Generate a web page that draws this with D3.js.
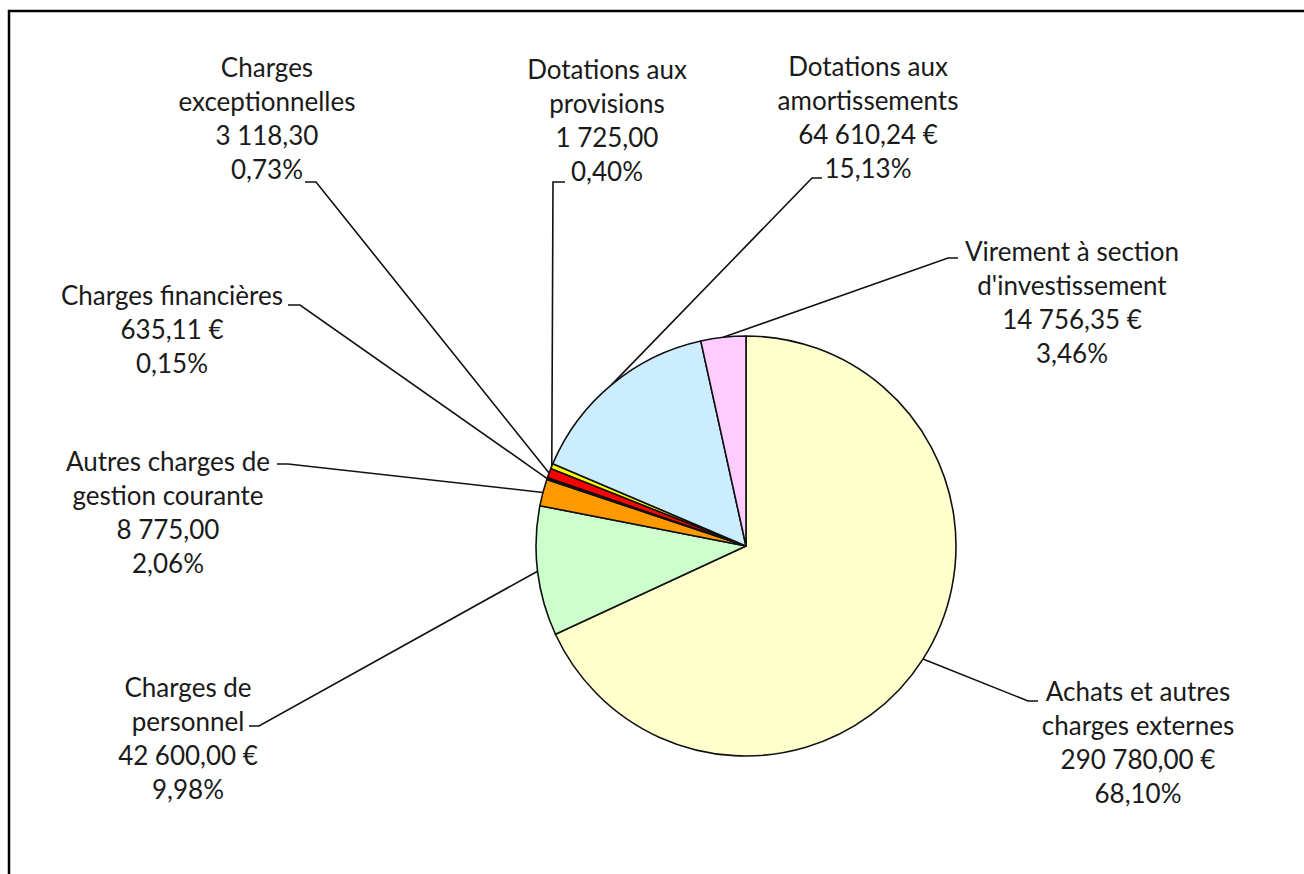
<!DOCTYPE html>
<html>
<head>
<meta charset="utf-8">
<script src="https://cdn.jsdelivr.net/npm/d3@7"></script>
<style>
  html, body { margin: 0; padding: 0; background: #fff; }
  svg { display: block; }
  text { font-family: Lato, "Open Sans", sans-serif; fill: #1a1a1a; }
</style>
</head>
<body>
<div id="chart"></div>
<script>
// Chart data
var categories = [
    "Achats et autres\ncharges externes",
    "Charges de\npersonnel",
    "Autres charges de\ngestion courante",
    "Charges financières",
    "Charges\nexceptionnelles",
    "Dotations aux\nprovisions",
    "Dotations aux\namortissements",
    "Virement à section\nd'investissement"
];
var values = [290780.00, 42600.00, 8775.00, 635.11, 3118.30, 1725.00, 64610.24, 14756.35];
var units = [" €", " €", "", " €", "", "", " €", " €"];
var colors = ["#FFFFCC", "#CCFFCC", "#FF9900", "#000000", "#FF0000", "#FFFF00", "#CCECFF", "#FFCCFF"];

// Label placement: text centre x, first baseline y, leader elbow and end
var labelPos = [
    { x: 1138, y: 701, ex: 1028, ey: 701, hx: 1038 },
    { x: 188,  y: 697, ex: 259,  ey: 726, hx: 249 },
    { x: 168,  y: 471, ex: 288,  ey: 464, hx: 277 },
    { x: 172,  y: 305, ex: 300,  ey: 305, hx: 288 },
    { x: 267,  y: 77,  ex: 316,  ey: 182, hx: 305 },
    { x: 607,  y: 79,  ex: 553,  ey: 182, hx: 565 },
    { x: 868,  y: 76,  ex: 812,  ey: 178, hx: 822 },
    { x: 1072, y: 261, ex: 948,  ey: 258, hx: 958 }
];

var width = 1304, height = 874;
var cx = 746, cy = 546, radius = 210;
var lineH = 34;

var fr = d3.formatLocale({ decimal: ",", thousands: "\u202F", grouping: [3], currency: ["", " €"] });
var fmtVal = fr.format(",.2f");
var fmtPct = fr.format(".2f");

var total = d3.sum(values);

var data = values.map(function(v, i) {
    return { name: categories[i], value: v, unit: units[i], color: colors[i], pos: labelPos[i] };
});

var svg = d3.select("#chart").append("svg")
    .attr("width", width)
    .attr("height", height);

// Chart frame (runs off the right and bottom edges)
svg.append("rect")
    .attr("x", 9).attr("y", 11)
    .attr("width", 1400).attr("height", 1000)
    .attr("fill", "none")
    .attr("stroke", "#000")
    .attr("stroke-width", 2.5);

var pie = d3.pie().sort(null).value(function(d) { return d.value; });
var arcs = pie(data);

var arc = d3.arc().innerRadius(0).outerRadius(radius);
var edge = d3.arc().innerRadius(radius).outerRadius(radius);

var g = svg.append("g").attr("transform", "translate(" + cx + "," + cy + ")");

g.selectAll("path.slice").data(arcs)
    .enter().append("path")
    .attr("class", "slice")
    .attr("d", arc)
    .attr("fill", function(d) { return d.data.color; })
    .attr("stroke", "#111")
    .attr("stroke-width", 1.6)
    .attr("stroke-linejoin", "round");

// Leader lines
svg.append("g").selectAll("path").data(arcs)
    .enter().append("path")
    .attr("fill", "none")
    .attr("stroke", "#111")
    .attr("stroke-width", 1.6)
    .attr("d", function(d) {
        var c = edge.centroid(d);
        var p = d.data.pos;
        return "M" + (cx + c[0]) + "," + (cy + c[1]) +
            "L" + p.ex + "," + p.ey +
            "L" + p.hx + "," + p.ey;
    });

// Labels
var labels = svg.append("g").selectAll("text").data(arcs)
    .enter().append("text")
    .attr("text-anchor", "middle")
    .attr("font-size", 26)
    .attr("x", function(d) { return d.data.pos.x; })
    .attr("y", function(d) { return d.data.pos.y; });

labels.each(function(d) {
    var lines = d.data.name.split("\n");
    lines.push(fmtVal(d.data.value) + d.data.unit);
    lines.push(fmtPct(d.data.value / total * 100) + "%");
    var t = d3.select(this);
    lines.forEach(function(s, k) {
        t.append("tspan")
            .attr("x", d.data.pos.x)
            .attr("dy", k === 0 ? 0 : lineH)
            .text(s);
    });
});
</script>
</body>
</html>
